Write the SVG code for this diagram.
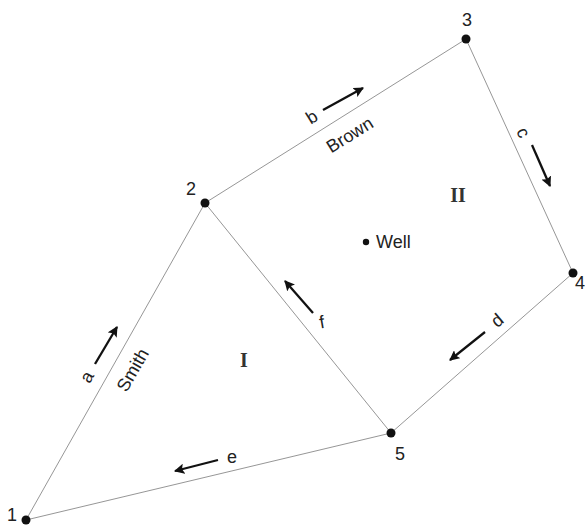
<svg xmlns="http://www.w3.org/2000/svg" width="585" height="527" viewBox="0 0 585 527">
<defs>
<marker id="ah" viewBox="0 0 10 10" refX="9" refY="5" markerWidth="4.5" markerHeight="4.5" orient="auto" markerUnits="strokeWidth">
<path d="M0,0 L10,5 L0,10 L2,5 z" fill="#111"/>
</marker>
<style>
.edge{stroke:#8a8a8a;stroke-width:0.9;fill:none}
.flow{stroke:#111;stroke-width:2.3;fill:none;marker-end:url(#ah)}
.node{fill:#111}
.t{font-family:"Liberation Sans",Arial,sans-serif;font-size:18px;fill:#222}
.r{font-family:"Liberation Serif","Times New Roman",serif;font-size:20px;font-weight:bold;fill:#333}
</style>
</defs>
<rect width="585" height="527" fill="#fff"/>
<g id="connectors">
<line class="edge" x1="26" y1="520" x2="205" y2="203"/>
<line class="edge" x1="205" y1="203" x2="466" y2="39"/>
<line class="edge" x1="466" y1="39" x2="573" y2="273"/>
<line class="edge" x1="573" y1="273" x2="391" y2="433"/>
<line class="edge" x1="391" y1="433" x2="26" y2="520"/>
<line class="edge" x1="205" y1="203" x2="391" y2="433"/>
<line class="flow" x1="95" y1="364" x2="117" y2="327"/>
<line class="flow" x1="323" y1="110" x2="363" y2="88"/>
<line class="flow" x1="532" y1="145" x2="550" y2="186"/>
<line class="flow" x1="485" y1="332" x2="450" y2="360"/>
<line class="flow" x1="313" y1="313" x2="285" y2="281"/>
<line class="flow" x1="218" y1="460" x2="175" y2="471"/>
<text class="t" transform="translate(92,380) rotate(-60)" text-anchor="middle">a</text>
<text class="t" transform="translate(138,373) rotate(-60)" text-anchor="middle">Smith</text>
<text class="t" transform="translate(315,122) rotate(-32)" text-anchor="middle">b</text>
<text class="t" transform="translate(353,140) rotate(-32)" text-anchor="middle">Brown</text>
<text class="t" transform="translate(518,135) rotate(65)" text-anchor="middle">c</text>
<text class="t" transform="translate(501,325) rotate(-40)" text-anchor="middle">d</text>
<text class="t" transform="translate(323,328) rotate(-10)" text-anchor="middle">f</text>
<text class="t" x="232" y="463" text-anchor="middle">e</text>
</g>
<g id="region-I"><text class="r" x="244" y="367" text-anchor="middle">I</text></g>
<g id="region-II"><text class="r" x="458" y="202" text-anchor="middle">II</text></g>
<g id="well"><circle class="node" cx="366" cy="242" r="3.2"/><text class="t" x="376" y="248">Well</text></g>
<g id="n1"><circle class="node" cx="26" cy="520" r="4.5"/><text class="t" x="12" y="521" text-anchor="middle">1</text></g>
<g id="n2"><circle class="node" cx="205" cy="203" r="4.5"/><text class="t" x="191" y="195" text-anchor="middle">2</text></g>
<g id="n3"><circle class="node" cx="466" cy="39" r="4.5"/><text class="t" x="467" y="26" text-anchor="middle">3</text></g>
<g id="n4"><circle class="node" cx="573" cy="273" r="4.5"/><text class="t" x="575" y="289">4</text></g>
<g id="n5"><circle class="node" cx="391" cy="433" r="4.5"/><text class="t" x="400" y="460" text-anchor="middle">5</text></g>
</svg>
